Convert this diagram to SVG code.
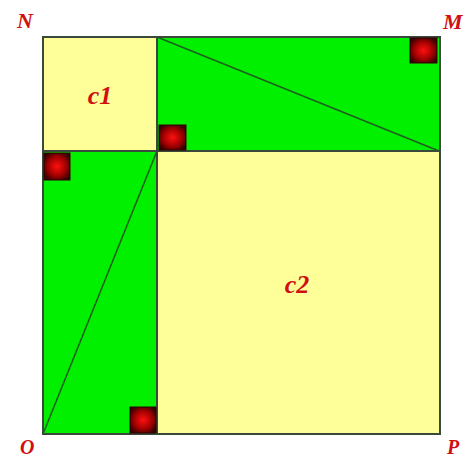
<svg xmlns="http://www.w3.org/2000/svg" width="472" height="459" viewBox="0 0 472 459">
<style>
.y{fill:#ffff99}
.g{fill:#00f000}
.ln{stroke:#3a4a3a;stroke-width:2;fill:none}
.dg{stroke:#1f5f1f;stroke-width:1.6;fill:none}
.lab{font-family:"Liberation Serif","DejaVu Serif",serif;font-style:italic;font-weight:bold;fill:#d01010}
.mk{fill:url(#rg);stroke:#300000;stroke-width:1}
</style>
<defs>
<radialGradient id="rg" cx="0.5" cy="0.5" r="0.6">
<stop offset="0" stop-color="#ff1010"/>
<stop offset="0.6" stop-color="#a00000"/>
<stop offset="1" stop-color="#300000"/>
</radialGradient>
</defs>
<g id="c1-square"><rect class="y" x="43" y="37" width="114" height="114"/></g>
<g id="c2-square"><rect class="y" x="157" y="151" width="283" height="283"/></g>
<g id="top-rect"><rect class="g" x="157" y="37" width="283" height="114"/></g>
<g id="left-rect"><rect class="g" x="43" y="151" width="114" height="283"/></g>
<g id="connectors">
<line class="dg" x1="157" y1="37" x2="439" y2="151"/>
<line class="dg" x1="157" y1="151" x2="43" y2="434"/>
<line class="ln" x1="157" y1="37" x2="157" y2="434"/>
<line class="ln" x1="43" y1="151" x2="440" y2="151"/>
<rect class="ln" x="43" y="37" width="397" height="397"/>
</g>
<g id="markers">
<rect class="mk" x="159" y="125" width="27" height="25"/>
<rect class="mk" x="44" y="153" width="26" height="27"/>
<rect class="mk" x="410" y="38" width="27" height="25"/>
<rect class="mk" x="130" y="407" width="26" height="26"/>
</g>
<g id="labels">
<text class="lab" x="17" y="28" font-size="22">N</text>
<text class="lab" x="443" y="29" font-size="22">M</text>
<text class="lab" x="20" y="454" font-size="20">O</text>
<text class="lab" x="447" y="454" font-size="20">P</text>
<text class="lab" x="100" y="104" font-size="26" text-anchor="middle">c1</text>
<text class="lab" x="297" y="293" font-size="26" text-anchor="middle">c2</text>
</g>
</svg>
